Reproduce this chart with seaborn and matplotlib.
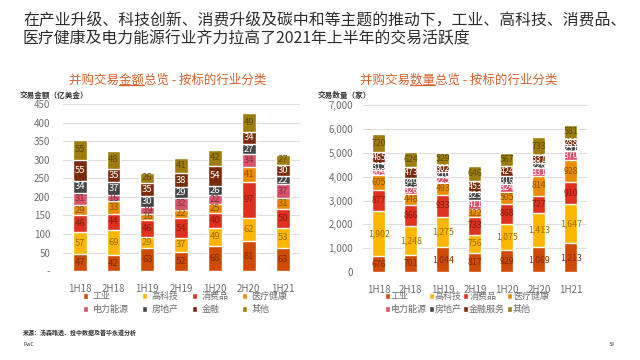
import numpy as np
import matplotlib
matplotlib.use("Agg")
import matplotlib.pyplot as plt
import seaborn as sns
from matplotlib.patches import Patch
from matplotlib.lines import Line2D
from matplotlib.ticker import FuncFormatter, MultipleLocator

# Data
periods = ["1H18", "2H18", "1H19", "2H19", "1H20", "2H20", "1H21"]
names_amt = ["工业", "高科技", "消费品", "医疗健康", "电力能源", "房地产", "金融", "其他"]
names_cnt = ["工业", "高科技", "消费品", "医疗健康", "电力能源", "房地产", "金融服务", "其他"]

amt_industry = [47, 42, 63, 52, 68, 81, 63]
amt_tech = [57, 69, 29, 37, 49, 62, 53]
amt_consumer = [46, 44, 46, 54, 40, 97, 50]
amt_health = [29, 33, 16, 22, 25, 41, 31]
amt_power = [31, 16, 19, 32, 22, 34, 37]
amt_realestate = [34, 37, 30, 29, 26, 27, 22]
amt_finance = [55, 35, 35, 38, 54, 34, 30]
amt_other = [55, 48, 26, 41, 42, 49, 27]

cnt_industry = [676, 701, 1044, 817, 929, 1069, 1213]
cnt_tech = [1902, 1248, 1275, 756, 1075, 1413, 1647]
cnt_consumer = [877, 866, 933, 733, 868, 727, 910]
cnt_health = [605, 448, 493, 322, 505, 814, 928]
cnt_power = [209, 326, 225, 411, 324, 331, 370]
cnt_realestate = [315, 349, 210, 323, 316, 226, 231]
cnt_finance = [465, 473, 302, 453, 424, 337, 288]
cnt_other = [720, 624, 529, 646, 567, 733, 581]

amt_layers = [amt_industry, amt_tech, amt_consumer, amt_health,
              amt_power, amt_realestate, amt_finance, amt_other]
cnt_layers = [cnt_industry, cnt_tech, cnt_consumer, cnt_health,
              cnt_power, cnt_realestate, cnt_finance, cnt_other]

colors = ["#D04A02", "#FFB600", "#E0301E", "#EB8C00",
          "#DB536A", "#464646", "#7A2B0C", "#A07C0C"]
dark_amt = [False, False, False, False, False, True, True, False]
dark_cnt = [False, False, False, False, True, True, True, False]

sns.set_theme(style="white")
plt.rcParams["font.family"] = ["Noto Sans CJK SC", "DejaVu Sans"]

fig = plt.figure(figsize=(6.4, 3.6), dpi=100)
fig.patch.set_facecolor("white")
grey = "#6E6E6E"
accent = "#D9622B"


def label_color(c, white):
    if white:
        return "white"
    return np.array(matplotlib.colors.to_rgb(c)) * 0.6


def stacked(ax, layers, white_flags, fmt, fsize):
    cum = np.cumsum(np.array(layers), axis=0)
    # draw cumulative totals from the top layer down so each layer shows
    for i in range(len(layers) - 1, -1, -1):
        sns.barplot(x=periods, y=cum[i], color=colors[i], width=0.41,
                    saturation=1, errorbar=None, ax=ax)
    for i, vals in enumerate(layers):
        for j, v in enumerate(vals):
            ax.text(j, cum[i][j] - v / 2, fmt(v), ha="center", va="center",
                    fontsize=fsize, color=label_color(colors[i], white_flags[i]))
    ax.set_xlim(-0.5, len(periods) - 0.5)
    ax.grid(axis="y", color="#DDDDDD", linewidth=0.8)
    ax.set_axisbelow(True)
    for s in ax.spines.values():
        s.set_visible(False)
    ax.set_xlabel("")
    ax.set_ylabel("")
    ax.tick_params(axis="both", length=0, colors=grey, labelsize=7)
    ax.tick_params(axis="x", pad=9)


# Left chart: amount
ax1 = fig.add_axes([0.098, 0.247, 0.370, 0.464])
stacked(ax1, amt_layers, dark_amt, lambda v: f"{v}", 6.8)
ax1.set_ylim(0, 450)
ax1.yaxis.set_major_locator(MultipleLocator(50))
ax1.yaxis.set_major_formatter(FuncFormatter(lambda v, p: "-" if v == 0 else f"{v:.0f}"))
ax1.tick_params(axis="y", pad=9)

# Right chart: count
ax2 = fig.add_axes([0.567, 0.244, 0.350, 0.464])
stacked(ax2, cnt_layers, dark_cnt, lambda v: f"{v:,}", 6.3)
ax2.set_ylim(0, 7000)
ax2.yaxis.set_major_locator(MultipleLocator(1000))
ax2.yaxis.set_major_formatter(FuncFormatter(lambda v, p: f"{v:,.0f}"))
ax2.tick_params(axis="y", pad=7)

# Legends
order = [0, 4, 1, 5, 2, 6, 3, 7]
h1 = [Patch(facecolor=colors[i]) for i in order]
ax1.legend(h1, [names_amt[i] for i in order], ncol=4, loc="upper left",
           bbox_to_anchor=(83 / 640, 1 - 292 / 360), bbox_transform=fig.transFigure,
           frameon=False, fontsize=6.5, handlelength=0.55, handleheight=0.55,
           handletextpad=0.5, columnspacing=1.5, labelspacing=0.45,
           borderpad=0, borderaxespad=0, labelcolor=grey)
h2 = [Patch(facecolor=colors[i]) for i in order]
ax2.legend(h2, [names_cnt[i] for i in order], ncol=4, loc="upper left",
           bbox_to_anchor=(385 / 640, 1 - 292 / 360), bbox_transform=fig.transFigure,
           frameon=False, fontsize=6.5, handlelength=0.55, handleheight=0.55,
           handletextpad=0.1, columnspacing=0.2, labelspacing=0.45,
           borderpad=0, borderaxespad=0, labelcolor=grey)

# Titles
fig.text(23 / 640, 1 - 11 / 360,
         "在产业升级、科技创新、消费升级及碳中和等主题的推动下，工业、高科技、消费品、\n"
         "医疗健康及电力能源行业齐力拉高了2021年上半年的交易活跃度",
         ha="left", va="top", fontsize=11.4, color="#2d2d2d", linespacing=1.15)

fig.text(20 / 640, 1 - 96 / 360, "交易金额（亿美金）", ha="left", va="center",
         fontsize=5.5, fontweight="bold", color="#333333")
fig.text(318 / 640, 1 - 95 / 360, "交易数量（家）", ha="left", va="center",
         fontsize=5.5, fontweight="bold", color="#333333")

fig.canvas.draw()
renderer = fig.canvas.get_renderer()


def subtitle(xc, yc, prefix, key, suffix):
    t = fig.text(xc / 640, 1 - yc / 360, prefix + key + suffix, ha="center",
                 va="center", fontsize=9, color=accent)
    bb = t.get_window_extent(renderer)
    tmp = fig.text(0, 0, prefix, fontsize=9)
    pw = tmp.get_window_extent(renderer).width
    tmp2 = fig.text(0, 0, key, fontsize=9)
    kw = tmp2.get_window_extent(renderer).width
    tmp.remove()
    tmp2.remove()
    x0 = (bb.x0 + pw) / 640
    x1 = (bb.x0 + pw + kw) / 640
    y = (bb.y0 + 1.5) / 360
    fig.add_artist(Line2D([x0, x1], [y, y], color=accent, linewidth=0.9,
                          transform=fig.transFigure))


subtitle(168, 80, "并购交易", "金额", "总览 - 按标的行业分类")
subtitle(459, 80, "并购交易", "数量", "总览 - 按标的行业分类")

# Footer
fig.text(23 / 640, 1 - 332 / 360, "来源：汤森路透、投中数据及普华永道分析",
         ha="left", va="center", fontsize=4.3, fontweight="bold", color="#333333")
fig.text(23 / 640, 1 - 345 / 360, "PwC", ha="left", va="center", fontsize=3.8, color="#333333")
fig.text(615 / 640, 1 - 345 / 360, "39", ha="right", va="center", fontsize=3.8, color="#333333")

fig.savefig("out.png", dpi=100)
